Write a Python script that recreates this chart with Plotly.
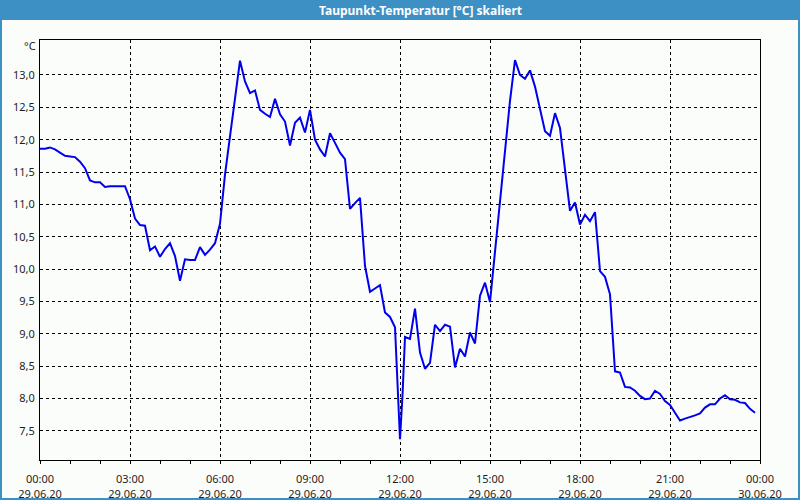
import plotly.graph_objects as go

# ---------------- data ----------------
times = [
    "00:00", "00:10", "00:20", "00:30", "00:40", "00:50",
    "01:00", "01:10", "01:20", "01:30", "01:40", "01:50",
    "02:00", "02:10", "02:20", "02:30", "02:40", "02:50",
    "03:00", "03:10", "03:20", "03:30", "03:40", "03:50",
    "04:00", "04:10", "04:20", "04:30", "04:40", "04:50",
    "05:00", "05:10", "05:20", "05:30", "05:40", "05:50",
    "06:00", "06:10", "06:20", "06:30", "06:40", "06:50",
    "07:00", "07:10", "07:20", "07:30", "07:40", "07:50",
    "08:00", "08:10", "08:20", "08:30", "08:40", "08:50",
    "09:00", "09:10", "09:20", "09:30", "09:40", "09:50",
    "10:00", "10:10", "10:20", "10:30", "10:40", "10:50",
    "11:00", "11:10", "11:20", "11:30", "11:40", "11:50", "11:55",
    "12:00", "12:05", "12:10", "12:20", "12:30", "12:40", "12:50",
    "13:00", "13:10", "13:20", "13:30", "13:40", "13:50",
    "14:00", "14:10", "14:20", "14:30", "14:40", "14:50",
    "15:00", "15:10", "15:20", "15:30", "15:40", "15:50",
    "16:00", "16:10", "16:20", "16:30", "16:40", "16:50",
    "17:00", "17:10", "17:20", "17:30", "17:40", "17:50",
    "18:00", "18:10", "18:20", "18:30", "18:40", "18:50",
    "19:00", "19:10", "19:20", "19:30", "19:40", "19:50",
    "20:00", "20:10", "20:20", "20:30", "20:40", "20:50",
    "21:00", "21:10", "21:20", "21:30", "21:40", "21:50",
    "22:00", "22:10", "22:20", "22:30", "22:40", "22:50",
    "23:00", "23:10", "23:20", "23:30", "23:40", "23:50",
]
dewpoint = [
    11.86, 11.86, 11.88, 11.85, 11.80, 11.75,
    11.74, 11.73, 11.66, 11.56, 11.37, 11.34,
    11.34, 11.27, 11.28, 11.28, 11.28, 11.28,
    11.08, 10.78, 10.68, 10.67, 10.29, 10.35,
    10.19, 10.31, 10.40, 10.20, 9.82, 10.15,
    10.14, 10.14, 10.34, 10.22, 10.30, 10.40,
    10.70, 11.46, 12.05, 12.63, 13.22, 12.90,
    12.72, 12.76, 12.46, 12.40, 12.35, 12.63,
    12.39, 12.28, 11.91, 12.26, 12.34, 12.11,
    12.46, 12.00, 11.85, 11.74, 12.10, 11.95,
    11.80, 11.70, 10.93, 11.02, 11.10, 10.05,
    9.65, 9.70, 9.75, 9.33, 9.26, 9.10, 8.25,
    7.37, 8.05, 8.95, 8.92, 9.39, 8.71, 8.46,
    8.55, 9.14, 9.04, 9.14, 9.11, 8.48,
    8.77, 8.65, 9.02, 8.85, 9.59, 9.79,
    9.49, 10.25, 11.02, 11.75, 12.60, 13.23,
    13.00, 12.94, 13.07, 12.82, 12.46, 12.13,
    12.06, 12.41, 12.18, 11.49, 10.90, 11.03,
    10.69, 10.84, 10.74, 10.88, 9.97, 9.88,
    9.61, 8.42, 8.40, 8.18, 8.17, 8.12,
    8.04, 7.99, 8.00, 8.12, 8.07, 7.96,
    7.90, 7.78, 7.66, 7.69, 7.71, 7.74,
    7.77, 7.86, 7.91, 7.91, 8.00, 8.05,
    7.99, 7.98, 7.94, 7.93, 7.84, 7.78,
]
day = "2020-06-29"

x_tickvals = ["2020-06-29 00:00", "2020-06-29 03:00", "2020-06-29 06:00",
              "2020-06-29 09:00", "2020-06-29 12:00", "2020-06-29 15:00",
              "2020-06-29 18:00", "2020-06-29 21:00", "2020-06-30 00:00"]
x_tick_times = ["00:00", "03:00", "06:00", "09:00", "12:00", "15:00",
                "18:00", "21:00", "00:00"]
x_tick_dates = ["29.06.20", "29.06.20", "29.06.20", "29.06.20", "29.06.20",
                "29.06.20", "29.06.20", "29.06.20", "30.06.20"]
y_tickvals = [7.5, 8.0, 8.5, 9.0, 9.5, 10.0, 10.5, 11.0, 11.5, 12.0, 12.5, 13.0]
y_ticktext = ["7,5", "8,0", "8,5", "9,0", "9,5", "10,0", "10,5", "11,0",
              "11,5", "12,0", "12,5", "13,0"]

title_text = "Taupunkt-Temperatur [°C] skaliert"
unit_text = "°C"

# ---------------- layout geometry ----------------
W, H = 800, 500
ML, MR, MT, MB = 40, 40, 40, 40
PW, PH = W - ML - MR, H - MT - MB


def px_x(p):
    return (p - ML) / PW


def px_y(p):
    return (H - MB - p) / PH


BLUE = "#3c90c4"
BG = "#fbfdfb"
TXT = "#1e1e1e"
FONT = "Noto Sans"
XRANGE = ["2020-06-29 00:00", "2020-06-30 00:00"]

fig = go.Figure()
fig.add_trace(go.Scatter(
    x=[f"{day} {t}" for t in times],
    y=dewpoint,
    mode="lines",
    line=dict(color="#0000ee", width=2),
    showlegend=False,
    hoverinfo="skip",
))

fig.update_layout(
    width=W, height=H,
    margin=dict(l=ML, r=MR, t=MT, b=MB, pad=0, autoexpand=False),
    paper_bgcolor=BG, plot_bgcolor=BG,
    font=dict(family=FONT, size=11, color=TXT),
    showlegend=False,
    xaxis=dict(
        type="date", automargin=False, range=XRANGE,
        tickmode="array", tickvals=x_tickvals,
        ticktext=[f"{t}<br>{d}" for t, d in zip(x_tick_times, x_tick_dates)],
        ticks="outside", ticklen=3, tickcolor="black", tickwidth=1,
        showgrid=True, gridcolor="black", gridwidth=1, griddash="3px,3px",
        showline=True, linecolor="black", linewidth=1, mirror=True,
        zeroline=False,
        minor=dict(dtick=3600000, ticks="outside", ticklen=3,
                   tickcolor="black", showgrid=False),
        tickfont=dict(family=FONT, size=11, color=TXT),
        ticklabelstandoff=6,
    ),
    yaxis=dict(
        automargin=False, range=[7.05, 13.54],
        tickmode="array", tickvals=y_tickvals, ticktext=y_ticktext,
        ticks="",
        showgrid=True, gridcolor="black", gridwidth=1, griddash="3px,3px",
        showline=True, linecolor="black", linewidth=1, mirror=True,
        zeroline=False,
        tickfont=dict(family=FONT, size=11, color=TXT),
        ticklabelstandoff=2,
    ),
)

shapes = [
    # outer window border
    dict(type="rect", xref="paper", yref="paper",
         x0=px_x(1), x1=px_x(W - 1), y0=px_y(H - 1), y1=px_y(1),
         line=dict(color=BLUE, width=2), fillcolor="rgba(0,0,0,0)", layer="above"),
    # title bar
    dict(type="rect", xref="paper", yref="paper",
         x0=px_x(0), x1=px_x(W), y0=px_y(20), y1=px_y(0),
         line=dict(width=0), fillcolor=BLUE, layer="above"),
]
fig.update_layout(shapes=shapes)

fig.add_annotation(
    text=f"<b>{title_text}</b>", xref="paper", yref="paper",
    x=px_x(420), y=px_y(10), xanchor="center", yanchor="middle",
    showarrow=False, font=dict(family=FONT, size=12, color="white"),
)
fig.add_annotation(
    text=unit_text, xref="paper", yref="paper",
    x=px_x(38), y=px_y(46), xanchor="right", yanchor="middle",
    showarrow=False, font=dict(family=FONT, size=11, color=TXT),
)

fig.write_html("out.html")
